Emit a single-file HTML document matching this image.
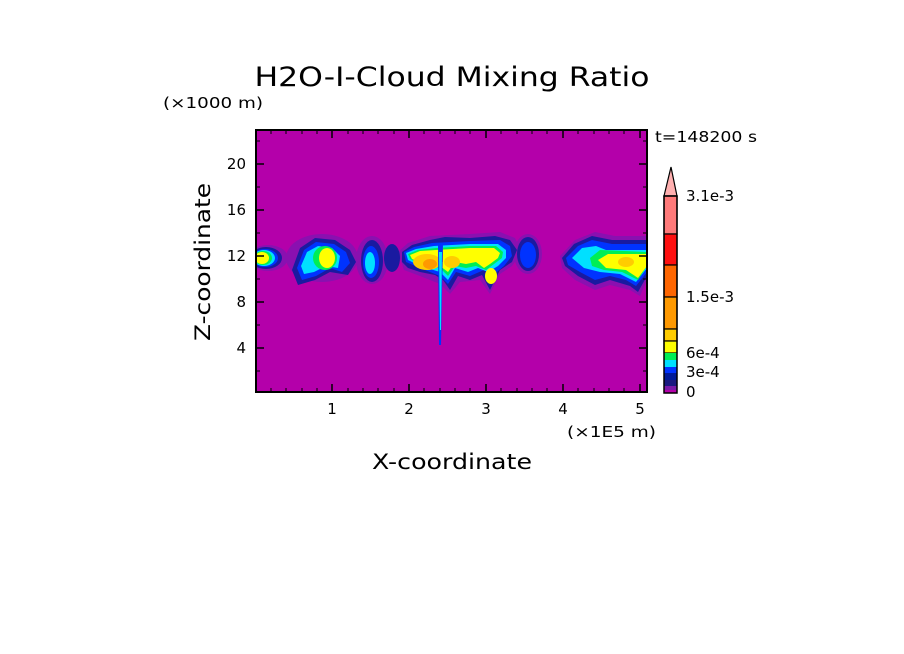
<!DOCTYPE html>
<html><head><meta charset="utf-8"><style>
html,body{margin:0;padding:0;background:#fff;}
svg{display:block;}
text{font-family:"DejaVu Sans","Liberation Sans",sans-serif;fill:#000;}
</style></head><body>
<svg width="904" height="654" viewBox="0 0 904 654" xmlns="http://www.w3.org/2000/svg">
<rect width="904" height="654" fill="#fff"/>
<text x="452" y="86" font-size="27" text-anchor="middle" textLength="395" lengthAdjust="spacingAndGlyphs">H2O-I-Cloud Mixing Ratio</text>
<text x="163" y="108" font-size="15" textLength="100" lengthAdjust="spacingAndGlyphs">(×1000 m)</text>
<defs><clipPath id="c"><rect x="256" y="130" width="391" height="262"/></clipPath></defs>
<rect x="256" y="130" width="391" height="262" fill="#b400aa"/>
<g clip-path="url(#c)">
 <g fill="#8a10b0">
  <ellipse cx="268" cy="258" rx="20" ry="13"/>
  <ellipse cx="322" cy="258" rx="36" ry="24"/>
  <ellipse cx="372" cy="260" rx="16" ry="24"/>
  <polygon points="398,252 408,243 430,236 470,234 500,232 515,238 522,252 512,266 500,274 490,294 480,280 460,282 450,294 440,284 420,276 404,270"/>
  <ellipse cx="528" cy="254" rx="14" ry="20"/>
  <polygon points="560,256 575,240 595,232 615,236 647,236 647,280 640,296 630,290 610,285 595,290 575,280 562,268"/>
 </g>
 <g fill="#1a1aa0">
  <ellipse cx="266" cy="258" rx="16" ry="11"/>
  <polygon points="292,270 300,248 315,238 335,240 350,250 356,262 348,275 330,272 315,280 298,285"/>
  <ellipse cx="372" cy="261" rx="11" ry="21"/>
  <ellipse cx="392" cy="258" rx="8" ry="14"/>
  <polygon points="402,252 412,245 430,240 445,237 470,238 495,236 510,240 517,250 512,262 500,270 490,290 482,275 470,280 458,276 450,290 443,280 435,275 420,272 408,268 402,262"/>
  <ellipse cx="528" cy="254" rx="11" ry="17"/>
  <polygon points="562,258 574,244 592,236 612,240 647,240 647,276 638,292 630,286 610,280 595,285 578,276 565,266"/>
 </g>
 <g fill="#0033ff">
  <ellipse cx="265" cy="258" rx="13" ry="9"/>
  <polygon points="297,268 304,250 316,242 334,244 346,252 350,263 342,272 330,268 316,276 302,280"/>
  <ellipse cx="371" cy="262" rx="8" ry="16"/>
  <polygon points="404,252 414,247 432,243 470,241 500,240 510,246 512,256 504,266 492,276 484,270 470,276 456,272 448,284 440,276 420,268 406,262"/>
  <ellipse cx="528" cy="255" rx="8" ry="13"/>
  <polygon points="566,258 578,246 592,240 612,244 647,244 647,272 636,286 626,280 610,276 595,280 580,272 568,265"/>
 </g>
 <g fill="#00e0ff">
  <ellipse cx="264" cy="258" rx="11" ry="8"/>
  <polygon points="301,266 307,252 318,246 332,248 340,256 338,268 326,266 314,272 304,274"/>
  <ellipse cx="370" cy="263" rx="5" ry="11"/>
  <polygon points="406,253 416,249 434,246 470,244 498,244 506,250 506,258 498,266 488,272 478,268 468,272 455,268 448,280 440,272 420,266 408,260"/>
  <polygon points="572,258 582,248 596,246 606,250 647,250 647,268 636,282 620,274 600,272 584,268"/>
 </g>
 <g fill="#00ee55">
  <ellipse cx="263" cy="258" rx="9" ry="7"/>
  <ellipse cx="325" cy="258" rx="12" ry="12"/>
  <polygon points="408,254 418,250 436,248 470,246 496,246 503,252 502,258 494,264 486,270 476,266 466,268 455,266 448,276 440,268 420,264 410,259"/>
  <polygon points="590,258 600,250 647,252 647,266 638,280 622,272 604,270 592,266"/>
 </g>
 <g fill="#ffff00">
  <ellipse cx="262" cy="258" rx="7" ry="6"/>
  <ellipse cx="327" cy="258" rx="8" ry="10"/>
  <polygon points="410,255 420,251 436,250 470,248 494,248 500,253 498,258 490,264 484,268 476,262 466,264 455,262 448,272 440,266 420,262 412,259"/>
  <ellipse cx="491" cy="276" rx="6" ry="8"/>
  <polygon points="598,260 608,254 647,254 647,266 638,278 626,270 606,268"/>
 </g>
 <g fill="#ffcc00">
  <ellipse cx="427" cy="262" rx="14" ry="8"/>
  <ellipse cx="452" cy="262" rx="8" ry="6"/>
  <ellipse cx="626" cy="262" rx="8" ry="5"/>
 </g>
 <g fill="#ff9900">
  <ellipse cx="430" cy="264" rx="7" ry="5"/>
  <rect x="440" y="244" width="3" height="18"/>
 </g>
 <polygon points="438,244 443,244 441,345 439,345" fill="#0033ff"/>
 <polygon points="439,252 442,252 441,330 440,330" fill="#00e0ff"/>
</g>
<rect x="256" y="130" width="391" height="262" fill="none" stroke="#000" stroke-width="2"/>
<g stroke="#000" stroke-width="1.5">
 <path d="M332,392v-8M409,392v-8M486,392v-8M563,392v-8M640,392v-8M332,130v8M409,130v8M486,130v8M563,130v8M640,130v8"/>
 <path d="M256,164h8M256,210h8M256,256h8M256,302h8M256,348h8M647,164h-8M647,210h-8M647,256h-8M647,302h-8M647,348h-8"/>
</g>
<g stroke="#000" stroke-width="1">
 <path d="M271,392v-4M286,392v-4M302,392v-4M317,392v-4M348,392v-4M363,392v-4M378,392v-4M394,392v-4M424,392v-4M440,392v-4M455,392v-4M470,392v-4M501,392v-4M517,392v-4M532,392v-4M547,392v-4M578,392v-4M594,392v-4M609,392v-4M624,392v-4
 M271,130v4M286,130v4M302,130v4M317,130v4M348,130v4M363,130v4M378,130v4M394,130v4M424,130v4M440,130v4M455,130v4M470,130v4M501,130v4M517,130v4M532,130v4M547,130v4M578,130v4M594,130v4M609,130v4M624,130v4
 M256,371h4M256,325h4M256,279h4M256,233h4M256,187h4M256,141h4M647,371h-4M647,325h-4M647,279h-4M647,233h-4M647,187h-4M647,141h-4"/>
</g>
<g font-size="15" text-anchor="middle">
 <text x="332" y="414">1</text><text x="409" y="414">2</text><text x="486" y="414">3</text><text x="563" y="414">4</text><text x="640" y="414">5</text>
</g>
<g font-size="15" text-anchor="end">
 <text x="246" y="169">20</text><text x="246" y="215">16</text><text x="246" y="261">12</text><text x="246" y="307">8</text><text x="246" y="353">4</text>
</g>
<text x="567" y="437" font-size="15" textLength="89" lengthAdjust="spacingAndGlyphs">(×1E5 m)</text>
<text x="452" y="469" font-size="21" text-anchor="middle" textLength="160" lengthAdjust="spacingAndGlyphs">X-coordinate</text>
<text transform="translate(210,262) rotate(-90)" font-size="21" text-anchor="middle" textLength="158" lengthAdjust="spacingAndGlyphs">Z-coordinate</text>
<text x="655" y="142" font-size="15" textLength="102" lengthAdjust="spacingAndGlyphs">t=148200 s</text>
<g stroke="#000" stroke-width="1.2">
 <polygon points="664,196 671,167 677,196" fill="#ffb0b0"/>
 <rect x="664" y="196" width="13" height="38" fill="#ff7a7a"/>
 <rect x="664" y="234" width="13" height="31" fill="#ff1010"/>
 <rect x="664" y="265" width="13" height="32" fill="#ff6600"/>
 <rect x="664" y="297" width="13" height="32" fill="#ff9900"/>
 <rect x="664" y="329" width="13" height="12" fill="#ffcc00"/>
 <rect x="664" y="341" width="13" height="12" fill="#ffff00"/>
</g>
<rect x="664" y="353" width="13" height="7" fill="#00ee55"/>
<rect x="664" y="360" width="13" height="7" fill="#00e0ff"/>
<rect x="664" y="367" width="13" height="6" fill="#0033ff"/>
<rect x="664" y="373" width="13" height="7" fill="#001a99"/>
<rect x="664" y="380" width="13" height="6" fill="#1a1a80"/>
<rect x="664" y="386" width="13" height="4" fill="#7a1aa8"/>
<rect x="664" y="390" width="13" height="3" fill="#b400aa"/>
<rect x="664" y="196" width="13" height="197" fill="none" stroke="#000" stroke-width="1.5"/>
<g font-size="15">
 <text x="686" y="201">3.1e-3</text>
 <text x="686" y="302">1.5e-3</text>
 <text x="686" y="358">6e-4</text>
 <text x="686" y="377">3e-4</text>
 <text x="686" y="397">0</text>
</g>
</svg>
</body></html>
